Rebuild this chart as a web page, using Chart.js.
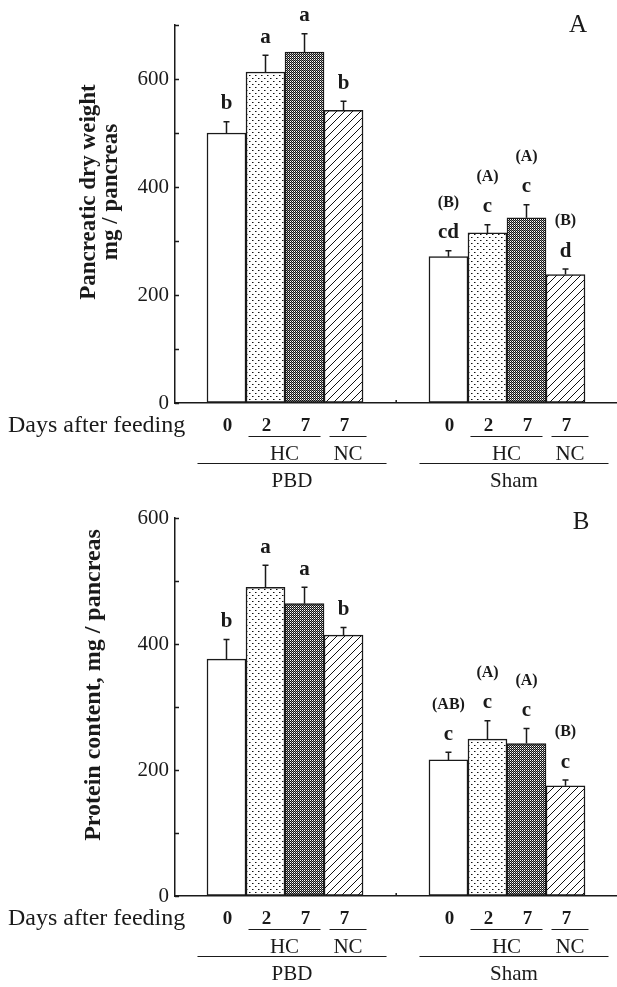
<!DOCTYPE html>
<html>
<head>
<meta charset="utf-8">
<script src="https://cdn.jsdelivr.net/npm/chart.js@4.4.1/dist/chart.umd.min.js"></script>
<style>
  html, body { margin: 0; padding: 0; background: #fff; }
  #wrap { position: relative; width: 617px; height: 987px; overflow: hidden; }
  .panel { position: absolute; left: 0; width: 617px; }
</style>
</head>
<body>
<div id="wrap">
  <div class="panel" style="top:0;height:493px"><canvas id="chartA"></canvas></div>
  <div class="panel" style="top:493px;height:494px"><canvas id="chartB"></canvas></div>
</div>
<script>
// categories
const dayLabels = ['0', '2', '7', '7'];
const dietLabels = ['HC', 'NC'];
const groupNames = ['PBD', 'Sham'];
// bar positions on the linear x axis, in bar-width units
const pbdPos = [1, 2, 3, 4];
const shamPos = [6.69, 7.69, 8.69, 9.69];
const dividerPos = 5.35;

// Panel A - pancreatic dry weight, mg / pancreas
const dryPbd = [500, 613, 650, 542];
const dryPbdErr = [21, 31, 34, 17];
const drySham = [271, 315, 343, 238];
const dryShamErr = [11, 15, 24, 10];
const dryLetters = ['b', 'a', 'a', 'b', 'cd', 'c', 'c', 'd'];
const dryShamGroups = ['(B)', '(A)', '(A)', '(B)'];

// Panel B - protein content, mg / pancreas
const protPbd = [376, 490, 464, 414];
const protPbdErr = [31, 35, 26, 12];
const protSham = [216, 249, 242, 175];
const protShamErr = [12, 29, 24, 9];
const protLetters = ['b', 'a', 'a', 'b', 'c', 'c', 'c', 'c'];
const protShamGroups = ['(AB)', '(A)', '(A)', '(B)'];

const SERIF = '"Liberation Serif", "DejaVu Serif", serif';
const INK = '#1a1a1a';
const AXIS_BOTTOM = 403;   // chart area bottom inside each canvas

/**
 * Fill patterns: open, dotted, dark checker, diagonal hatch
 */
function makePattern(kind) {
    const c = document.createElement('canvas');
    const g = c.getContext('2d');
    if (kind === 'dots') {
        c.width = 6; c.height = 6;
        g.fillStyle = '#fff'; g.fillRect(0, 0, 6, 6);
        g.fillStyle = '#111';
        g.fillRect(0, 0, 1, 1);
        g.fillRect(3, 3, 1, 1);
        g.fillStyle = '#888';
        g.fillRect(1, 0, 1, 1);
        g.fillRect(4, 3, 1, 1);
    } else if (kind === 'check') {
        c.width = 2; c.height = 2;
        g.fillStyle = '#fff'; g.fillRect(0, 0, 2, 2);
        g.fillStyle = '#111';
        g.fillRect(0, 0, 1, 1); g.fillRect(1, 1, 1, 1);
        g.fillStyle = '#888';
        g.fillRect(1, 0, 1, 1);
    } else if (kind === 'hatch') {
        c.width = 8; c.height = 8;
        g.fillStyle = '#fff'; g.fillRect(0, 0, 8, 8);
        g.strokeStyle = '#111'; g.lineWidth = 1;
        g.beginPath();
        g.moveTo(-1, 9); g.lineTo(9, -1);
        g.moveTo(-1, 1); g.lineTo(1, -1);
        g.moveTo(7, 9); g.lineTo(9, 7);
        g.stroke();
    } else {
        c.width = 2; c.height = 2;
        g.fillStyle = '#fff'; g.fillRect(0, 0, 2, 2);
    }
    return g.createPattern(c, 'repeat');
}

const fills = ['open', 'dots', 'check', 'hatch'].map(makePattern);

/**
 * Draws error bars, significance letters, inward ticks,
 * category labels under the axis and the axis title
 */
const annotate = {
    id: 'annotate',
    afterDatasetsDraw(chart, args, o) {
        const { ctx, chartArea: ca, scales: { x, y } } = chart;
        const bars = chart.getDatasetMeta(0).data;
        ctx.save();
        ctx.strokeStyle = INK;
        ctx.fillStyle = INK;
        ctx.lineWidth = 1.5;

        // inward ticks every 100
        for (let v = 0; v <= y.max; v += 100) {
            const py = Math.round(y.getPixelForValue(v)) + 0.5;
            ctx.beginPath();
            ctx.moveTo(ca.left, py); ctx.lineTo(ca.left + 4, py);
            ctx.stroke();
        }
        const dx = x.getPixelForValue(dividerPos);
        ctx.beginPath();
        ctx.moveTo(dx, ca.bottom); ctx.lineTo(dx, ca.bottom - 3);
        ctx.stroke();

        // error bars and letters
        ctx.textAlign = 'center';
        ctx.textBaseline = 'middle';
        bars.forEach((bar, i) => {
            const top = y.getPixelForValue(o.values[i] + o.errors[i]);
            ctx.beginPath();
            ctx.moveTo(bar.x, bar.y);
            ctx.lineTo(bar.x, top);
            ctx.moveTo(bar.x - 3, top);
            ctx.lineTo(bar.x + 3, top);
            ctx.stroke();
            ctx.font = 'bold 21px ' + SERIF;
            ctx.fillText(o.letters[i], bar.x, top - 18);
            if (o.groups[i]) {
                ctx.font = 'bold 16px ' + SERIF;
                ctx.fillText(o.groups[i], bar.x, top - 48);
            }
        });

        // labels under the axis
        const b = ca.bottom;
        ctx.font = '24px ' + SERIF;
        ctx.textAlign = 'left';
        ctx.fillText('Days after feeding', 8, b + 23);
        ctx.textAlign = 'center';
        ctx.lineWidth = 1.2;
        [0, 4].forEach((s, gi) => {
            const c = bars.slice(s, s + 4).map(bar => bar.x);
            ctx.font = 'bold 19px ' + SERIF;
            dayLabels.forEach((t, k) => ctx.fillText(t, c[k] + 1, b + 23));
            const hc = [c[1] - 17, c[2] + 16];
            const nc = [c[3] - 14, c[3] + 23];
            const all = [c[0] - 29, c[3] + 43];
            ctx.beginPath();
            ctx.moveTo(hc[0], b + 33.5); ctx.lineTo(hc[1], b + 33.5);
            ctx.moveTo(nc[0], b + 33.5); ctx.lineTo(nc[1], b + 33.5);
            ctx.moveTo(all[0], b + 60.5); ctx.lineTo(all[1], b + 60.5);
            ctx.stroke();
            ctx.font = '21px ' + SERIF;
            ctx.fillText(dietLabels[0], (hc[0] + hc[1]) / 2, b + 51);
            ctx.fillText(dietLabels[1], (nc[0] + nc[1]) / 2, b + 51);
            ctx.fillText(groupNames[gi], (all[0] + all[1]) / 2, b + 78);
        });

        // y axis title, rotated
        const cy = (ca.top + ca.bottom) / 2 - 22;
        ctx.font = 'bold ' + o.titleSize + 'px ' + SERIF;
        o.title.forEach((line, k) => {
            ctx.save();
            ctx.translate(o.titleX[k], cy);
            ctx.rotate(-Math.PI / 2);
            ctx.fillText(line, 0, 0);
            ctx.restore();
        });

        // panel letter
        ctx.font = '25px ' + SERIF;
        ctx.fillText(o.panel, o.panelXY[0], o.panelXY[1]);
        ctx.restore();
    }
};

function makePanel(id, pbd, pbdErr, sham, shamErr, letters, shamGroups, yMax, title, titleX, titleSize, panel, panelXY) {
    const values = pbd.concat(sham);
    const positions = pbdPos.concat(shamPos);
    return new Chart(document.getElementById(id), {
        type: 'bar',
        data: {
            datasets: [{
                data: values.map((v, i) => ({ x: positions[i], y: v })),
                backgroundColor: fills.concat(fills),
                borderColor: INK,
                borderWidth: 1.5,
                borderSkipped: false,
                barPercentage: 1,
                categoryPercentage: 1
            }]
        },
        options: {
            responsive: true,
            maintainAspectRatio: false,
            animation: false,
            layout: { padding: { top: 25, right: 0, left: 0, bottom: 0 } },
            plugins: {
                legend: { display: false },
                tooltip: { enabled: false },
                annotate: {
                    values: values,
                    errors: pbdErr.concat(shamErr),
                    letters: letters,
                    groups: ['', '', '', ''].concat(shamGroups),
                    title: title,
                    titleX: titleX,
                    titleSize: titleSize,
                    panel: panel,
                    panelXY: panelXY
                }
            },
            scales: {
                x: {
                    type: 'linear',
                    min: -0.32,
                    max: 11.01,
                    offset: false,
                    grid: { display: false, offset: false },
                    ticks: { display: false },
                    border: { color: INK, width: 1.5 },
                    afterFit: s => { s.height = s.chart.height - AXIS_BOTTOM; }
                },
                y: {
                    min: 0,
                    max: yMax,
                    grid: { drawOnChartArea: false, drawTicks: false },
                    border: { color: INK, width: 1.5 },
                    ticks: {
                        stepSize: 100,
                        padding: 6,
                        color: INK,
                        font: { family: SERIF, size: 21 },
                        callback: v => (v % 200 === 0 ? String(v) : '')
                    },
                    afterFit: s => { s.width = 175; }
                }
            }
        },
        plugins: [annotate]
    });
}

makePanel('chartA', dryPbd, dryPbdErr, drySham, dryShamErr, dryLetters, dryShamGroups, 700,
    ['Pancreatic dry weight', 'mg / pancreas'], [89, 111], 23, 'A', [578, 25]);
makePanel('chartB', protPbd, protPbdErr, protSham, protShamErr, protLetters, protShamGroups, 600,
    ['Protein content, mg / pancreas'], [94], 24, 'B', [581, 29]);
</script>
</body>
</html>
